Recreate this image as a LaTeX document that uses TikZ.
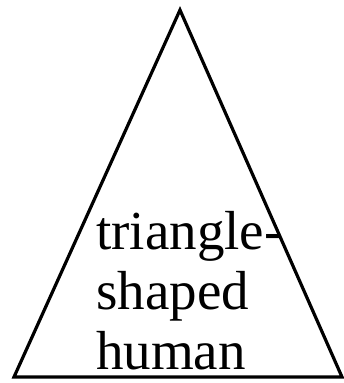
\documentclass[tikz,border=0pt]{standalone}
\usepackage{fontspec}
\setmainfont{Liberation Serif}
\usepackage{tikz}
\tikzset{
  % Outline of the triangle
  tri/.style={draw=black, line width=3.2pt},
  % Label set inside the triangle
  lbl/.style={font=\fontsize{55}{60}\selectfont, align=left, inner sep=0pt}
}

\begin{document}
\begin{tikzpicture}[x=1pt, y=-1pt]
  \useasboundingbox (0,0) rectangle (344,383);
  \coordinate (apex)  at (180,10);
  \coordinate (left)  at (14,377);
  \coordinate (right) at (342,377);

  \draw[tri] (apex) -- (left) -- (right) -- cycle;

  \node[lbl, anchor=base west] (human) at (96,369) {triangle-\\shaped\\human};
\end{tikzpicture}
\end{document}
